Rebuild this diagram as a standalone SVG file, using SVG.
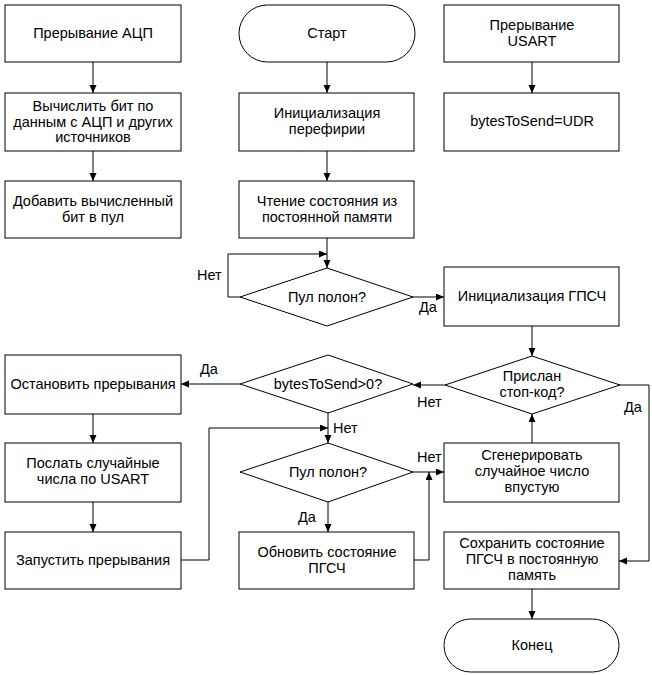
<svg xmlns="http://www.w3.org/2000/svg" width="652" height="675" viewBox="0 0 652 675">
<style>
.s{fill:#fff;stroke:#000;stroke-width:1}
text{font-family:"Liberation Sans",Arial,sans-serif;font-size:14.5px;fill:#000}
.c{text-anchor:middle}
.ln{fill:none;stroke:#000;stroke-width:1}
</style>
<defs>
<marker id="a" markerUnits="userSpaceOnUse" markerWidth="9" markerHeight="8" refX="8" refY="3.5" orient="auto">
<path d="M0,0 L8,3.5 L0,7 z" fill="#000"/>
</marker>
</defs>
<rect width="652" height="675" fill="#fff"/>
<g id="connectors" class="ln" marker-end="url(#a)">
<path d="M93,62 V93"/>
<path d="M93,151 V181"/>
<path d="M327,62 V93"/>
<path d="M327,151 V181"/>
<path d="M327,238 V268"/>
<path d="M240,297 H228 V254 H327"/>
<path d="M413,297 H444"/>
<path d="M532,62 V93"/>
<path d="M532,326 V356"/>
<path d="M445,385 H413"/>
<path d="M620,385 H649 V561 H619"/>
<path d="M532,443 V414"/>
<path d="M240,384 H181"/>
<path d="M328,413 V443"/>
<path d="M93,414 V443"/>
<path d="M93,502 V532"/>
<path d="M181,560 H209 V428 H328"/>
<path d="M413,472 H444"/>
<path d="M328,502 V532"/>
<path d="M414,560 H429 V472"/>
<path d="M532,589 V619"/>
</g>
<g id="labels">
<text x="197" y="280">Нет</text>
<text x="419" y="312">Да</text>
<text x="417" y="407">Нет</text>
<text x="624" y="412">Да</text>
<text x="200" y="374">Да</text>
<text x="333" y="433">Нет</text>
<text x="417" y="462">Нет</text>
<text x="298" y="522">Да</text>
</g>
<g id="n_adc"><rect class="s" x="5" y="5" width="176" height="57"/><text class="c" x="93" y="38">Прерывание АЦП</text></g>
<g id="n_calc"><rect class="s" x="5" y="93" width="176" height="58"/><text class="c" x="93" y="111">Вычислить бит по</text><text class="c" x="93" y="127">данным с АЦП и других</text><text class="c" x="93" y="142">источников</text></g>
<g id="n_add"><rect class="s" x="5" y="181" width="176" height="57"/><text class="c" x="93" y="206">Добавить вычисленный</text><text class="c" x="93" y="222">бит в пул</text></g>
<g id="n_start"><rect class="s" x="239" y="5" width="176" height="57" rx="28.5" ry="28.5"/><text class="c" x="327" y="38">Старт</text></g>
<g id="n_init"><rect class="s" x="239" y="93" width="175" height="58"/><text class="c" x="327" y="118">Инициализация</text><text class="c" x="327" y="134">перефирии</text></g>
<g id="n_read"><rect class="s" x="239" y="181" width="175" height="57"/><text class="c" x="327" y="206">Чтение состояния из</text><text class="c" x="327" y="222">постоянной памяти</text></g>
<g id="n_usart"><rect class="s" x="444" y="5" width="175" height="57"/><text class="c" x="532" y="30">Прерывание</text><text class="c" x="532" y="46">USART</text></g>
<g id="n_bytes"><rect class="s" x="444" y="93" width="175" height="58"/><text class="c" x="532" y="126">bytesToSend=UDR</text></g>
<g id="d_pool1"><path class="s" d="M327,268 L413,297 L327,326 L240,297 z"/><text class="c" x="327" y="302">Пул полон?</text></g>
<g id="n_prng"><rect class="s" x="444" y="267" width="175" height="59"/><text class="c" x="532" y="301">Инициализация ГПСЧ</text></g>
<g id="d_stop"><path class="s" d="M532,356 L620,385 L532,414 L445,385 z"/><text class="c" x="532" y="381">Прислан</text><text class="c" x="532" y="397">стоп-код?</text></g>
<g id="d_bytes"><path class="s" d="M328,355 L413,384 L328,413 L240,384 z"/><text class="c" x="328" y="389">bytesToSend&gt;0?</text></g>
<g id="n_stopint"><rect class="s" x="5" y="355" width="176" height="59"/><text class="c" x="93" y="389">Остановить прерывания</text></g>
<g id="n_send"><rect class="s" x="5" y="443" width="176" height="59"/><text class="c" x="93" y="468">Послать случайные</text><text class="c" x="93" y="484">числа по USART</text></g>
<g id="n_runint"><rect class="s" x="5" y="532" width="176" height="57"/><text class="c" x="93" y="565">Запустить прерывания</text></g>
<g id="d_pool2"><path class="s" d="M328,443 L413,472 L328,502 L240,472 z"/><text class="c" x="328" y="477">Пул полон?</text></g>
<g id="n_update"><rect class="s" x="239" y="532" width="175" height="57"/><text class="c" x="327" y="557">Обновить состояние</text><text class="c" x="327" y="573">ПГСЧ</text></g>
<g id="n_gen"><rect class="s" x="444" y="443" width="175" height="59"/><text class="c" x="532" y="460">Сгенерировать</text><text class="c" x="532" y="476">случайное число</text><text class="c" x="532" y="492">впустую</text></g>
<g id="n_save"><rect class="s" x="444" y="532" width="175" height="57"/><text class="c" x="532" y="548">Сохранить состояние</text><text class="c" x="532" y="564">ПГСЧ в постоянную</text><text class="c" x="532" y="580">память</text></g>
<g id="n_end"><rect class="s" x="444" y="619" width="175" height="53" rx="26.5" ry="26.5"/><text class="c" x="532" y="650">Конец</text></g>
</svg>
